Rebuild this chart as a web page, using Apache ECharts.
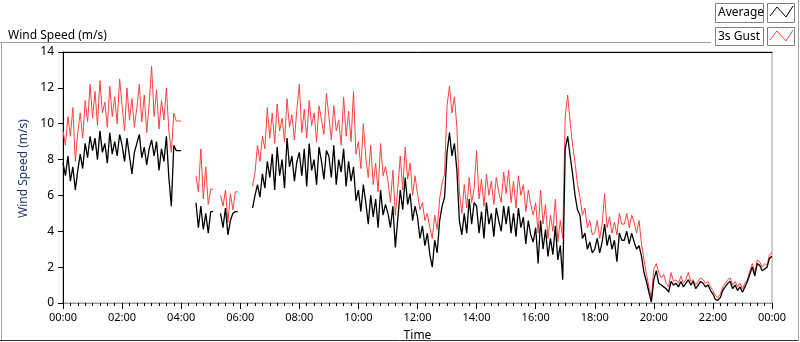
<!DOCTYPE html>
<html>
<head>
<meta charset="utf-8">
<script src="https://cdn.jsdelivr.net/npm/echarts@6/dist/echarts.min.js"></script>
<style>
html,body{margin:0;padding:0;background:#fff}
#chart{width:800px;height:342px}
</style>
</head>
<body>
<div id="chart"></div>
<script>
// one reading every 5 minutes, 00:00 .. 24:00, null = no data
var stepMin = 5;
var timeLabels = ["00:00","02:00","04:00","06:00","08:00","10:00","12:00","14:00","16:00","18:00","20:00","22:00","00:00"];
var seriesNames = ["Average", "3s Gust"];

var gust = [
  9.6, 8.8, 10.4, 9.3, 10.9, 7.9, 9.5, 10.6, 9.2, 11.3, 10.1, 12.2,
  10.3, 11.8, 9.9, 12.4, 10.6, 11.2, 9.8, 12.1, 10.4, 11.5, 10.0, 12.5,
  11.0, 9.6, 12.0, 10.2, 11.4, 9.8, 10.9, 12.2, 10.1, 11.6, 9.5, 11.1,
  13.2, 10.4, 11.9, 9.7, 11.3, 10.2, 12.0, 9.6, 8.4, 10.6, 10.15, 10.15,
  10.15, null, null, null, null, null, 7.1, 6.2, 8.6, 5.8, 7.6, 5.5,
  6.35, 6.35, null, null, 6.0, 5.4, 6.3, 4.5, 6.1, 5.2, 6.2, 6.2,
  null, null, null, null, null, 6.5, 7.3, 8.8, 7.9, 9.3, 8.6, 10.9,
  9.2, 10.6, 8.9, 11.1, 9.6, 10.3, 9.0, 11.4, 9.8, 10.5, 9.1, 10.8,
  12.2, 9.5, 10.8, 9.2, 11.3, 9.9, 10.6, 9.0, 11.0, 10.2, 9.4, 11.7,
  10.4, 9.1, 11.0, 9.6, 10.2, 8.8, 11.5, 9.3, 10.7, 9.0, 11.8, 8.3,
  9.0, 7.5, 10.0, 8.1, 7.0, 8.8, 6.6, 7.8, 6.2, 8.9, 7.1, 7.6,
  6.8, 5.6, 7.4, 4.9, 6.4, 8.2, 6.3, 8.7, 6.9, 7.8, 6.0, 7.1,
  6.1, 5.2, 5.6, 4.6, 5.0, 4.2, 3.6, 4.9, 4.1, 5.8, 6.7, 7.2,
  11.0, 12.1, 10.6, 11.5, 9.8, 6.2, 5.0, 6.6, 5.3, 7.0, 5.6, 6.4,
  8.5, 5.8, 6.9, 5.4, 7.2, 6.0, 6.8, 5.5, 7.0, 6.2, 5.6, 7.3,
  6.1, 7.4, 5.6, 6.8, 5.3, 7.1, 6.0, 6.6, 5.1, 6.3, 5.5, 4.9,
  5.6, 3.9, 6.3, 4.4, 5.5, 3.6, 4.9, 4.0, 5.8, 3.4, 4.6, 3.6,
  10.4, 11.6, 10.1, 8.8, 7.8, 6.6, 5.9, 4.9, 5.3, 4.2, 4.6, 3.8,
  3.9, 4.6, 3.6, 4.4, 6.1, 4.2, 4.8, 3.9, 4.5, 3.8, 5.0, 4.4,
  4.4, 5.0, 4.2, 4.9, 4.5, 3.9, 4.6, 3.3, 2.4, 1.6, 0.9, 0.3,
  1.9, 2.2, 1.7, 1.4, 1.6, 1.1, 0.9, 1.7, 1.2, 1.3, 1.1, 1.5,
  1.1, 1.3, 1.7, 1.2, 1.3, 1.0, 1.2, 1.4, 1.3, 1.1, 1.2, 0.9,
  0.7, 0.4, 0.3, 0.5, 0.9, 1.1, 1.3, 1.4, 1.0, 1.2, 0.9, 1.1,
  0.8, 1.1, 1.3, 1.8, 2.2, 1.7, 2.4, 2.3, 2.0, 2.2, 2.1, 2.7,
  2.8
];

var average = [
  7.8, 7.1, 8.2, 6.8, 7.6, 6.3, 7.4, 8.3, 7.5, 8.9, 8.1, 9.3,
  8.5, 9.2, 8.0, 9.6, 8.4, 8.9, 7.8, 9.5, 8.3, 9.0, 8.2, 9.4,
  8.8, 7.9, 9.2, 8.2, 7.2, 8.4, 8.9, 9.4, 8.1, 8.7, 7.7, 8.6,
  9.1, 8.2, 9.0, 7.4, 8.6, 7.9, 9.3, 7.0, 5.4, 8.8, 8.5, 8.5,
  8.5, null, null, null, null, null, 5.6, 4.2, 5.4, 4.1, 5.0, 3.9,
  5.1, 5.1, null, null, 5.0, 4.2, 5.3, 3.8, 4.6, 5.0, 5.1, 5.1,
  null, null, null, null, null, 5.3, 6.0, 6.6, 5.9, 7.2, 6.4, 7.9,
  7.0, 8.3, 6.3, 8.7, 7.1, 8.0, 6.4, 9.2, 7.6, 8.2, 6.8, 7.9,
  8.4, 7.1, 8.6, 6.5, 8.9, 7.4, 8.0, 6.6, 8.7, 7.9, 6.9, 8.5,
  8.2, 7.0, 8.8, 6.6, 8.0, 7.3, 8.6, 6.5, 7.9, 6.8, 7.6, 5.7,
  6.3, 5.1, 6.6, 5.6, 4.4, 6.0, 4.8, 5.8, 4.2, 6.3, 4.9, 5.5,
  5.0, 4.2, 5.4, 3.1, 4.7, 6.3, 5.2, 7.0, 5.5, 6.1, 4.6, 5.4,
  4.8, 3.6, 4.3, 3.2, 3.9, 2.7, 2.0, 3.5, 2.8, 4.6, 5.4, 5.9,
  8.4, 9.5, 8.2, 8.9, 7.4, 4.6, 3.8, 5.0, 3.9, 5.8, 4.4, 5.6,
  5.4, 3.9, 5.1, 3.6, 5.6, 4.4, 5.0, 3.7, 5.3, 4.6, 4.0, 5.4,
  4.4, 5.4, 3.9, 5.0, 3.7, 5.3, 4.2, 4.8, 3.3, 4.6, 3.8, 3.4,
  4.2, 2.2, 4.6, 3.0, 4.1, 2.6, 3.6, 2.7, 4.3, 2.4, 3.2, 1.3,
  8.6, 9.3, 8.2, 7.2, 6.0, 5.2, 4.9, 3.6, 3.9, 3.0, 3.4, 2.8,
  3.0, 3.6, 2.8, 3.4, 4.4, 3.2, 3.8, 3.0, 3.5, 2.3, 3.9, 3.5,
  3.5, 4.0, 3.3, 3.9, 3.4, 3.0, 3.2, 2.6, 1.7, 1.2, 0.6, 0.05,
  1.3, 1.8, 1.1, 1.0, 0.9, 0.8, 0.6, 1.2, 1.0, 1.1, 0.9, 1.2,
  0.9, 1.1, 1.3, 1.0, 1.2, 0.8, 1.0, 1.2, 1.1, 0.9, 1.0, 0.7,
  0.5, 0.2, 0.15, 0.3, 0.7, 0.9, 1.1, 1.2, 0.8, 1.0, 0.7, 0.9,
  0.6, 0.9, 1.2, 1.6, 2.0, 1.5, 2.2, 2.1, 1.8, 1.9, 2.0, 2.5,
  2.6
];

function pairs(values) {
  return values.map(function (v, i) { return [i * stepMin, v]; });
}

var dom = document.getElementById("chart");
var myChart = echarts.init(dom);
var font = "Noto Sans";
var option = {
  animation: false,
  textStyle: { fontFamily: font },
  title: {
    text: "Wind Speed (m/s)", left: 3, top: 25,
    textStyle: { fontSize: 12, fontWeight: "normal", color: "#000", fontFamily: font }
  },
  grid: {
    left: 63, top: 52, right: 28, bottom: 39, outerBoundsMode: "none",
    show: true, borderColor: "#9a9a9a", borderWidth: 1
  },
  xAxis: [{
    type: "value", min: 0, max: 1440, interval: 120,
    axisLine: { lineStyle: { color: "#9a9a9a" } },
    axisTick: { length: 6, lineStyle: { color: "#000" } },
    minorTick: { show: true, splitNumber: 8, length: 3, lineStyle: { color: "#000" } },
    splitLine: { show: false },
    axisLabel: {
      fontSize: 11, color: "#000", margin: 9,
      formatter: function (v) { return timeLabels[Math.round(v / 120)]; }
    },
    name: "Time", nameLocation: "middle", nameGap: 27,
    nameTextStyle: { fontSize: 12, color: "#000" }
  }, {
    type: "value", position: "top", min: 0, max: 1440,
    axisLine: { lineStyle: { color: "#000" } },
    axisTick: { show: false }, axisLabel: { show: false }, splitLine: { show: false }
  }],
  yAxis: {
    type: "value", min: 0, max: 14, interval: 2,
    axisLine: { show: true, lineStyle: { color: "#000" } },
    axisTick: { show: true, length: 5, lineStyle: { color: "#000" } },
    splitLine: { show: false },
    axisLabel: { fontSize: 12, color: "#000", margin: 9 },
    name: "Wind Speed (m/s)", nameLocation: "middle", nameGap: 32,
    nameTextStyle: { fontSize: 12, color: "#1f3a6e", padding: [0, 0, 0, 18] }
  },
  series: [
    {
      name: seriesNames[1], type: "line", data: pairs(gust), showSymbol: false,
      connectNulls: false,
      lineStyle: { color: "#ff4040", width: 1 }, itemStyle: { color: "#ff4040" }
    },
    {
      name: seriesNames[0], type: "line", data: pairs(average), showSymbol: false,
      connectNulls: false,
      lineStyle: { color: "#000", width: 1.3 }, itemStyle: { color: "#000" }
    }
  ],
  graphic: [
    // panel frame
    { type: "line", shape: { x1: 0, y1: 42.5, x2: 711, y2: 42.5 }, style: { stroke: "#a0a0a0", lineWidth: 1 } },
    { type: "line", shape: { x1: 1.5, y1: 42, x2: 1.5, y2: 341 }, style: { stroke: "#a0a0a0", lineWidth: 1 } },
    { type: "line", shape: { x1: 0, y1: 340.5, x2: 799, y2: 340.5 }, style: { stroke: "#303030", lineWidth: 1 } },
    { type: "line", shape: { x1: 798.5, y1: 0, x2: 798.5, y2: 341 }, style: { stroke: "#a0a0a0", lineWidth: 1 } },
    // legend
    { type: "rect", shape: { x: 715.5, y: 3.5, width: 48, height: 19 }, style: { fill: "#fff", stroke: "#808080", lineWidth: 1 } },
    { type: "text", x: 718, y: 13, style: { text: seriesNames[0], fontSize: 12, fontFamily: font, fill: "#000", verticalAlign: "middle" } },
    { type: "rect", shape: { x: 767.5, y: 3.5, width: 27, height: 19 }, style: { fill: "#fff", stroke: "#808080", lineWidth: 1 } },
    { type: "polyline", shape: { points: [[770, 16], [777, 7], [786, 17], [793, 6]] }, style: { stroke: "#000", lineWidth: 1, fill: null } },
    { type: "rect", shape: { x: 715.5, y: 27.5, width: 48, height: 18 }, style: { fill: "#fff", stroke: "#808080", lineWidth: 1 } },
    { type: "text", x: 718, y: 36.5, style: { text: seriesNames[1], fontSize: 12, fontFamily: font, fill: "#000", verticalAlign: "middle" } },
    { type: "rect", shape: { x: 767.5, y: 27.5, width: 27, height: 18 }, style: { fill: "#fff", stroke: "#808080", lineWidth: 1 } },
    { type: "polyline", shape: { points: [[770, 40], [777, 31], [786, 41], [793, 30]] }, style: { stroke: "#ff4040", lineWidth: 1, fill: null } }
  ]
};
if (option && typeof option === "object") {
  myChart.setOption(option);
}
</script>
</body>
</html>
